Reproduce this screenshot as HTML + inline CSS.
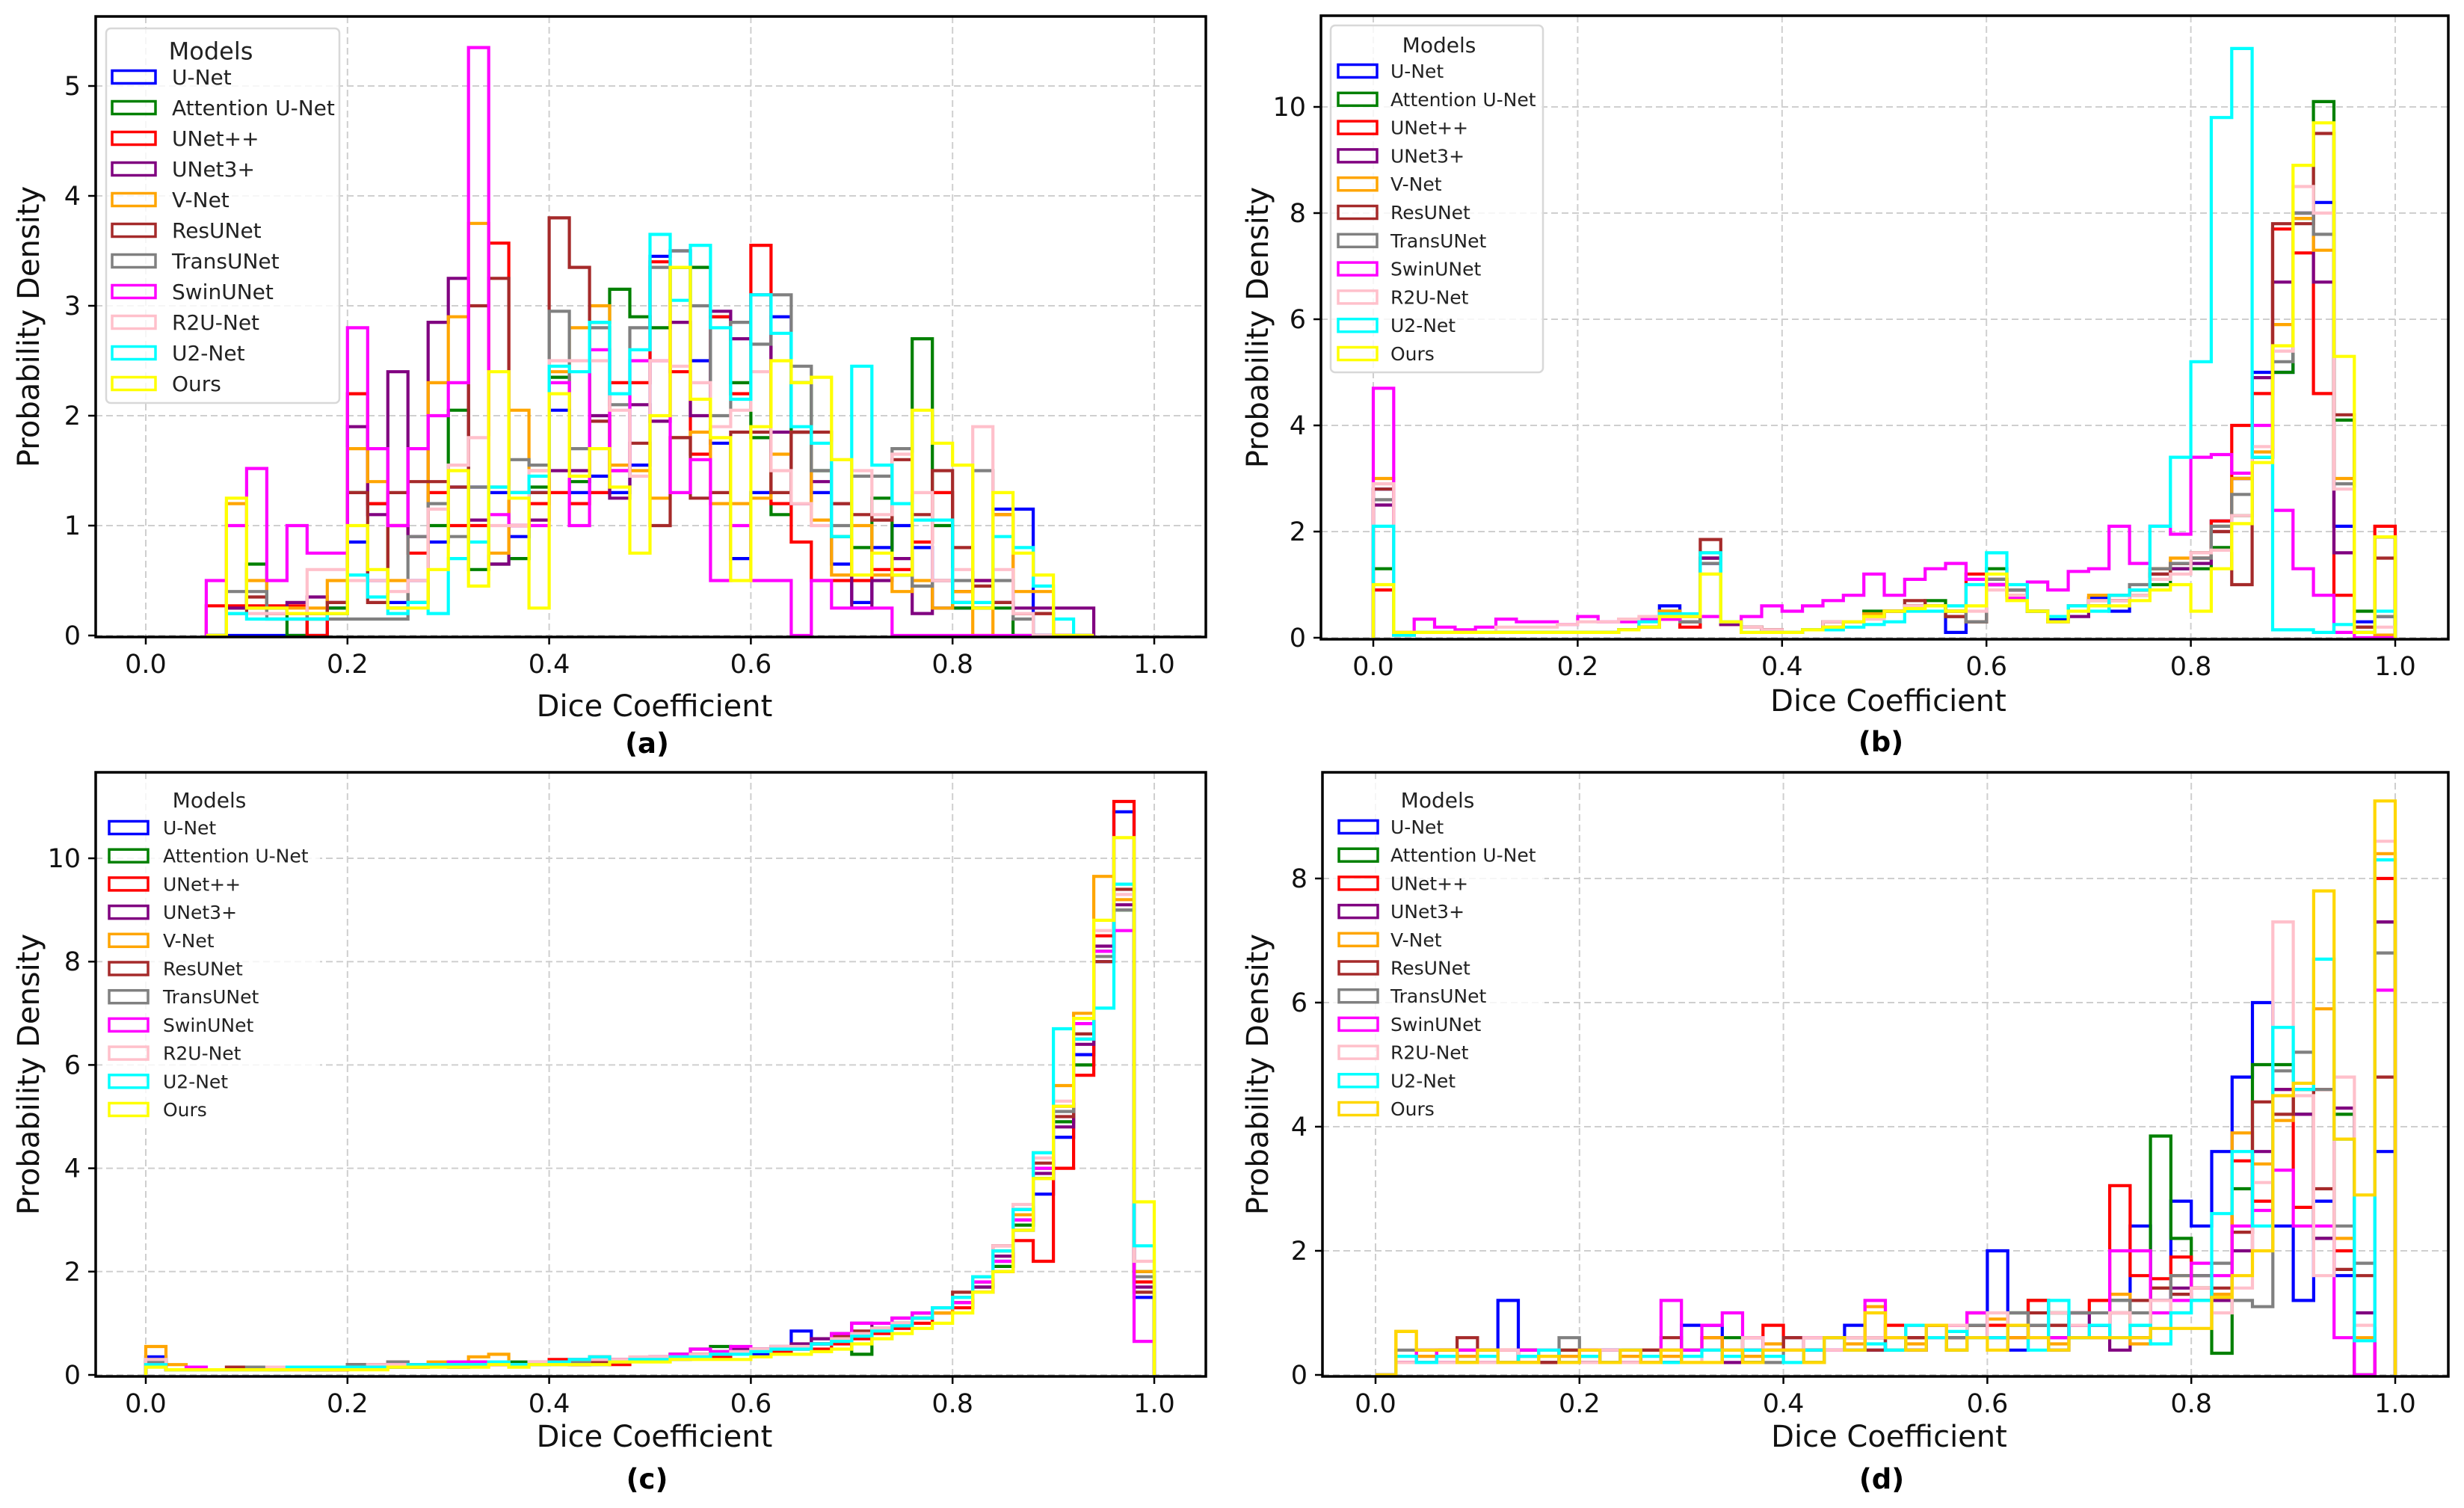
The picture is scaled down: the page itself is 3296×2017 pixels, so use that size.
<!DOCTYPE html>
<html><head><meta charset="utf-8">
<style>
html,body{margin:0;padding:0;background:#fff;}
svg{display:block;font-family:"DejaVu Sans","Liberation Sans",sans-serif;}
</style></head>
<body>
<svg id="fig" width="3296" height="2017" viewBox="0 0 3296 2017" xmlns="http://www.w3.org/2000/svg"></svg>
<script>
// ---------- shared data ----------
const modelNames = ["U-Net","Attention U-Net","UNet++","UNet3+","V-Net","ResUNet","TransUNet","SwinUNet","R2U-Net","U2-Net","Ours"];
const xTicks = [0,0.2,0.4,0.6,0.8,1.0];
const xTickLabels = ["0.0","0.2","0.4","0.6","0.8","1.0"];
const yTicksA = [0,1,2,3,4,5];
const yTicksB = [0,2,4,6,8,10];
const yTicksC = [0,2,4,6,8,10];
const yTicksD = [0,2,4,6,8];
const panelLetters = ["(a)","(b)","(c)","(d)"];
const binWidth = 0.02;
const binStartA = 0.06;
const binStartB = 0;
const binStartC = 0;
const binStartD = 0;

// ---------- panel (a) ----------
const aUNet  = [0,0,0,0,0,0,0.25,0.85,0.5,0.3,0.5,0.85,1.35,1.35,1.3,0.9,1.3,2.05,1.3,1.45,1.3,1.55,3.45,3.5,2.5,1.75,0.7,1.3,2.9,1.85,1.3,0.65,0.3,0.8,1.0,0.8,0.25,0.25,0.25,1.15,1.15,0,0,0];
const aAttn  = [0,0.25,0.65,0.25,0,0.15,0.25,1.3,1.2,0.25,0.3,1.0,2.05,0.6,0.65,0.7,1.35,2.35,1.4,2.85,3.15,2.9,2.8,3.35,3.35,2.9,2.3,1.8,1.1,2.3,1.5,0.9,0.8,1.25,0.55,2.7,1.0,0.25,0.25,0.25,0,0,0,0];
const aUNetPP= [0.27,0.27,0.27,0.27,0.27,0,0.2,2.2,1.2,1.0,0.75,1.3,1.0,1.0,3.57,1.0,1.2,1.3,1.2,1.3,2.3,2.3,3.4,2.4,1.65,2.9,2.2,3.55,1.2,0.85,0.5,0.5,0.5,0.6,0.6,0.85,1.3,0.4,0.5,1.1,0.2,0.2,0,0];
const aUNet3 = [0,0.25,0.25,0.25,0.3,0.35,0.3,1.9,1.1,2.4,0.9,2.85,3.25,1.05,0.65,1.0,1.05,1.5,1.5,2.0,1.25,2.1,1.95,2.85,2.0,2.95,2.7,3.1,1.85,1.2,1.4,1.2,0.25,0.5,0.7,0.2,0.5,0.3,0.5,0.3,0.25,0.25,0.25,0.25];
const aVNet  = [0,1.2,0.5,0.2,0.25,0.25,0.5,1.7,1.4,0.5,0.3,2.3,2.9,3.75,0.75,2.05,1.5,2.4,2.8,3.0,1.55,1.5,1.25,1.8,1.85,1.2,1.2,1.25,1.65,1.85,1.05,0.55,1.0,0.55,0.4,0.5,0.25,0.4,0,1.1,0.4,0.4,0,0];
const aRes   = [0,0.2,0.35,0.2,0.2,0.2,0.3,1.3,0.3,1.3,1.4,1.4,1.35,3.0,3.25,1.3,1.3,3.8,3.35,1.95,1.5,1.75,1.0,1.8,1.25,1.3,1.85,1.85,1.3,1.85,1.85,1.2,1.1,1.05,1.6,1.1,1.5,0.8,0.45,0.3,0.2,0.2,0,0];
const aTrans = [0,0.4,0.4,0.15,0.15,0.2,0.15,0.15,0.15,0.15,0.9,1.2,0.9,1.35,1.35,1.6,1.55,2.95,1.7,2.8,2.1,2.8,3.35,3.5,3.0,2.0,2.85,2.65,3.1,2.45,1.5,1.0,1.45,1.45,1.7,0.45,0.5,0.5,1.5,0.5,0.15,0,0,0];
const aSwin  = [0.5,1.0,1.52,0.5,1.0,0.75,0.75,2.8,1.7,1.0,1.7,2.0,2.3,5.35,1.1,1.0,1.0,2.3,1.0,2.6,1.5,2.5,2.5,1.3,1.6,0.5,1.0,0.5,0.5,0,0.5,0.25,0.25,0.25,0,0,0,0,0,0,0,0,0,0];
const aR2U   = [0,0.2,0.2,0.2,0.2,0.6,0.6,0.5,0.5,0.4,0.5,1.15,1.55,1.8,1.0,1.0,1.5,2.5,2.5,2.5,2.05,1.45,2.5,2.45,2.3,1.9,2.05,2.4,1.5,1.2,1.0,1.6,1.5,1.1,1.65,1.3,0.5,0.6,1.9,0.6,0.2,0,0,0];
const aU2    = [0,0.2,0.15,0.15,0.15,0.15,0.2,0.55,0.35,0.2,0.3,0.2,0.7,0.85,1.35,1.3,1.45,2.45,2.4,2.85,2.2,2.6,3.65,3.05,3.55,2.8,2.15,3.1,2.75,1.9,1.75,0.9,2.45,1.55,1.2,1.05,1.05,0.3,0.3,0.9,0.8,0.45,0.15,0];
const aOurs  = [0,1.25,0.25,0.25,0.2,0.2,0.2,1.0,0.6,0.25,0.25,0.6,1.5,0.45,2.4,1.25,0.25,2.2,1.45,1.7,1.35,0.75,2.0,3.35,2.15,1.8,0.5,1.9,2.5,2.3,2.35,1.6,0.55,0.75,0.55,2.05,1.75,1.55,0.25,1.3,0.75,0.55,0,0];

// ---------- panel (b) ----------
const bUNet  = [2.8,0.1,0.1,0.1,0.1,0.1,0.1,0.1,0.1,0.1,0.1,0.1,0.15,0.2,0.6,0.3,1.4,0.3,0.2,0.15,0.1,0.15,0.3,0.3,0.4,0.5,0.6,0.6,0.1,0.3,1.0,0.9,0.5,0.35,0.6,0.75,0.5,0.9,1.3,1.3,1.6,2.2,3.0,5.0,5.0,8.0,8.2,2.1,0.3,0.4];
const bAttn  = [1.3,0.05,0.1,0.1,0.1,0.1,0.1,0.1,0.1,0.1,0.1,0.1,0.15,0.2,0.5,0.3,1.5,0.3,0.2,0.15,0.1,0.15,0.3,0.3,0.5,0.5,0.6,0.7,0.4,0.3,1.3,0.9,0.5,0.4,0.6,0.7,0.7,0.8,1.0,1.3,1.3,1.7,2.3,3.4,5.0,7.9,10.1,4.1,0.5,1.9];
const bUNetPP= [0.9,0.1,0.1,0.1,0.1,0.1,0.1,0.1,0.1,0.1,0.1,0.1,0.15,0.2,0.35,0.2,1.5,0.25,0.2,0.15,0.1,0.15,0.2,0.3,0.4,0.5,0.6,0.6,0.5,1.2,1.0,0.8,0.5,0.4,0.6,0.7,0.7,0.9,1.3,1.4,1.5,2.2,4.0,4.6,7.7,7.25,4.6,0.8,0.1,2.1];
const bUNet3 = [2.5,0.1,0.1,0.1,0.1,0.1,0.1,0.1,0.1,0.1,0.1,0.1,0.15,0.2,0.4,0.3,1.5,0.25,0.2,0.15,0.1,0.15,0.3,0.3,0.4,0.5,0.6,0.6,0.5,0.3,1.0,0.9,0.5,0.3,0.4,0.7,0.8,0.9,1.2,1.3,1.4,2.0,3.0,4.9,6.7,8.0,6.7,1.6,0.2,1.9];
const bVNet  = [3.0,0.1,0.1,0.1,0.1,0.1,0.1,0.1,0.1,0.1,0.1,0.1,0.15,0.2,0.5,0.3,1.6,0.3,0.2,0.15,0.1,0.15,0.3,0.3,0.45,0.5,0.6,0.6,0.5,0.3,1.1,0.8,0.5,0.4,0.6,0.8,0.8,0.9,1.3,1.5,1.6,2.1,3.0,3.5,5.9,7.9,7.3,3.0,0.2,0.05];
const bRes   = [2.8,0.1,0.1,0.1,0.1,0.1,0.1,0.1,0.1,0.1,0.1,0.1,0.15,0.2,0.4,0.3,1.85,0.3,0.2,0.15,0.1,0.15,0.3,0.3,0.4,0.5,0.7,0.6,0.4,0.3,1.1,0.9,0.5,0.4,0.6,0.6,0.7,0.9,1.2,1.4,1.5,2.0,1.0,3.4,7.8,7.8,9.5,4.2,0.2,1.5];
const bTrans = [2.6,0.1,0.1,0.1,0.1,0.1,0.1,0.1,0.1,0.1,0.1,0.1,0.15,0.2,0.45,0.3,1.4,0.3,0.2,0.15,0.1,0.15,0.3,0.3,0.4,0.5,0.6,0.6,0.5,0.3,1.1,0.9,0.5,0.4,0.6,0.7,0.8,1.0,1.3,1.4,1.5,2.1,2.7,3.4,5.2,8.0,7.6,2.9,0.1,0.4];
const bSwin  = [4.7,0.1,0.35,0.2,0.15,0.2,0.35,0.3,0.3,0.25,0.4,0.3,0.3,0.35,0.35,0.4,0.4,0.3,0.4,0.6,0.5,0.6,0.7,0.8,1.2,0.8,1.1,1.3,1.4,1.1,1.0,0.75,1.05,0.9,1.25,1.3,2.1,1.4,2.1,1.95,3.4,3.45,3.1,4.0,2.4,1.3,0.8,0.1,0,0];
const bR2U   = [2.9,0.1,0.1,0.1,0.1,0.1,0.2,0.2,0.2,0.25,0.3,0.3,0.35,0.4,0.4,0.4,1.2,0.3,0.2,0.15,0.1,0.15,0.3,0.3,0.35,0.5,0.6,0.6,0.6,0.5,0.9,0.8,0.5,0.4,0.6,0.7,0.7,0.8,1.1,1.2,1.6,1.65,2.3,3.6,5.4,8.5,8.0,2.8,0.1,0.2];
const bU2    = [2.1,0.05,0.1,0.1,0.1,0.1,0.1,0.1,0.1,0.1,0.1,0.1,0.15,0.3,0.45,0.45,1.6,0.3,0.1,0.1,0.1,0.15,0.15,0.2,0.25,0.3,0.5,0.5,0.6,1.0,1.6,1.0,0.5,0.4,0.6,0.5,0.8,0.9,2.1,3.4,5.2,9.8,11.1,3.4,0.15,0.15,0.1,0.25,0.1,0.5];
const bOurs  = [1.0,0.1,0.1,0.1,0.1,0.1,0.1,0.1,0.1,0.1,0.1,0.1,0.15,0.2,0.4,0.4,1.2,0.3,0.1,0.1,0.1,0.15,0.2,0.3,0.4,0.5,0.55,0.6,0.5,0.6,1.2,0.7,0.5,0.3,0.5,0.6,0.6,0.7,0.9,1.0,0.5,1.3,2.15,3.3,5.5,8.9,9.7,5.3,0.1,1.9];

// ---------- panel (c) ----------
const cUNet  = [0.35,0.1,0.1,0.1,0.1,0.15,0.1,0.15,0.1,0.1,0.15,0.15,0.15,0.15,0.2,0.15,0.2,0.2,0.2,0.2,0.25,0.2,0.2,0.25,0.3,0.3,0.3,0.35,0.4,0.4,0.4,0.5,0.85,0.6,0.7,0.8,0.9,1.0,1.2,1.3,1.5,1.8,2.2,2.8,3.5,4.6,6.2,8.0,10.9,1.5];
const cAttn  = [0.3,0.1,0.1,0.1,0.1,0.1,0.15,0.1,0.1,0.15,0.15,0.15,0.2,0.15,0.2,0.2,0.2,0.2,0.25,0.2,0.25,0.2,0.25,0.3,0.3,0.35,0.4,0.5,0.55,0.5,0.45,0.5,0.55,0.6,0.65,0.4,0.9,1.0,1.1,1.3,1.4,1.7,2.1,2.9,3.8,4.9,6.0,8.2,9.0,2.0];
const cUNetPP= [0.2,0.1,0.1,0.1,0.1,0.1,0.15,0.15,0.15,0.1,0.15,0.2,0.15,0.15,0.2,0.2,0.25,0.2,0.2,0.25,0.3,0.2,0.35,0.2,0.3,0.3,0.35,0.4,0.35,0.4,0.45,0.45,0.5,0.5,0.6,0.7,0.8,0.9,1.0,1.2,1.3,1.6,2.0,2.6,2.2,4.0,5.8,8.5,11.1,1.8];
const cUNet3 = [0.25,0.1,0.1,0.1,0.1,0.1,0.1,0.15,0.1,0.15,0.15,0.15,0.2,0.15,0.2,0.2,0.2,0.25,0.2,0.25,0.25,0.3,0.25,0.3,0.3,0.35,0.4,0.4,0.4,0.5,0.5,0.55,0.6,0.7,0.8,1.0,0.9,1.1,1.2,1.3,1.4,1.7,2.3,3.0,3.9,4.8,6.4,8.3,9.1,1.7];
const cVNet  = [0.55,0.2,0.15,0.1,0.1,0.1,0.15,0.1,0.15,0.15,0.2,0.15,0.2,0.2,0.25,0.2,0.35,0.4,0.2,0.2,0.25,0.3,0.25,0.3,0.3,0.35,0.35,0.4,0.45,0.4,0.45,0.5,0.5,0.6,0.7,0.8,0.9,1.0,1.1,1.2,1.4,1.8,2.4,3.1,4.3,5.6,7.0,9.65,9.2,2.0];
const cRes   = [0.2,0.1,0.1,0.1,0.15,0.1,0.1,0.15,0.15,0.15,0.2,0.2,0.25,0.15,0.2,0.2,0.25,0.2,0.2,0.25,0.25,0.2,0.25,0.3,0.3,0.35,0.35,0.4,0.4,0.45,0.5,0.5,0.55,0.6,0.75,0.85,0.9,1.0,1.1,1.3,1.6,1.9,2.5,3.2,4.1,5.0,6.6,8.0,9.4,1.6];
const cTrans = [0.25,0.1,0.1,0.1,0.1,0.15,0.1,0.15,0.1,0.15,0.2,0.15,0.25,0.2,0.2,0.25,0.2,0.2,0.2,0.25,0.2,0.25,0.3,0.3,0.3,0.3,0.35,0.4,0.45,0.45,0.5,0.5,0.55,0.6,0.7,0.75,0.9,1.0,1.1,1.3,1.5,1.9,2.4,3.2,4.0,5.1,6.5,8.1,9.0,1.9];
const cSwin  = [0.2,0.1,0.15,0.1,0.1,0.1,0.1,0.1,0.15,0.15,0.15,0.15,0.2,0.2,0.2,0.25,0.25,0.2,0.2,0.2,0.25,0.3,0.3,0.3,0.3,0.35,0.4,0.5,0.45,0.55,0.5,0.5,0.5,0.6,0.8,1.0,1.0,1.1,1.2,1.3,1.4,1.8,2.2,3.0,4.0,5.2,6.8,8.2,8.6,0.65];
const cR2U   = [0.3,0.1,0.1,0.1,0.1,0.1,0.15,0.1,0.15,0.15,0.15,0.2,0.2,0.15,0.2,0.2,0.2,0.25,0.2,0.25,0.25,0.3,0.3,0.3,0.35,0.35,0.35,0.4,0.4,0.45,0.5,0.55,0.55,0.6,0.7,0.8,0.9,1.0,1.1,1.3,1.5,1.9,2.5,3.3,4.2,5.3,6.9,8.6,9.3,2.2];
const cU2    = [0.2,0.1,0.1,0.1,0.1,0.1,0.1,0.15,0.15,0.15,0.15,0.15,0.15,0.2,0.2,0.2,0.2,0.25,0.2,0.2,0.25,0.3,0.35,0.25,0.3,0.3,0.35,0.35,0.4,0.4,0.45,0.5,0.5,0.6,0.65,0.75,0.85,0.95,1.1,1.3,1.5,1.9,2.4,3.2,4.3,6.7,6.5,7.1,9.5,2.5];
const cOurs  = [0.15,0.1,0.1,0.1,0.1,0.1,0.1,0.1,0.1,0.1,0.1,0.1,0.15,0.15,0.15,0.15,0.15,0.2,0.15,0.2,0.2,0.2,0.2,0.25,0.25,0.25,0.3,0.3,0.3,0.3,0.35,0.4,0.4,0.45,0.5,0.6,0.7,0.8,0.9,1.0,1.2,1.6,2.0,2.8,3.8,5.2,6.9,8.8,10.4,3.35];

// ---------- panel (d) ----------
const dUNet  = [0,0.2,0.4,0.4,0.2,0.4,1.2,0.4,0.4,0.2,0.2,0.4,0.4,0.2,0.4,0.8,0.8,0.4,0.2,0.4,0.4,0.4,0.6,0.8,0.4,0.6,0.4,0.8,0.6,0.8,2.0,0.4,0.8,0.4,0.8,0.6,1.2,2.4,1.2,2.8,2.4,3.6,4.8,6.0,2.4,1.2,2.8,1.6,0,3.6];
const dAttn  = [0,0.2,0.2,0.2,0.4,0.2,0.2,0.4,0.2,0.4,0.2,0.2,0.4,0.2,0.2,0.4,0.4,0.6,0.2,0.4,0.4,0.2,0.6,0.4,0.6,0.4,0.6,0.6,0.4,0.6,0.6,1.0,1.2,1.0,0.6,0.8,1.2,0.8,3.85,2.2,1.4,0.35,3.0,5.0,5.0,4.2,2.2,4.2,0,7.3];
const dUNetPP= [0,0.2,0.2,0.4,0.2,0.4,0.4,0.2,0.4,0.2,0.4,0.2,0.2,0.4,0.4,0.4,0.6,0.4,0.4,0.8,0.4,0.4,0.6,0.6,0.6,0.8,0.6,0.6,0.8,1.0,0.8,0.6,1.2,0.8,1.0,1.2,3.05,1.6,1.55,1.9,1.4,1.2,3.45,2.8,4.6,2.7,4.6,2.0,0,8.0];
const dUNet3 = [0,0.2,0.2,0.2,0.2,0.4,0.2,0.4,0.2,0.2,0.2,0.4,0.2,0.4,0.2,0.4,0.4,0.2,0.4,0.4,0.6,0.4,0.4,0.4,0.6,0.6,0.4,0.6,0.6,0.8,0.6,0.8,0.8,0.6,1.0,0.8,0.4,0.6,1.2,1.4,1.6,1.2,2.0,3.6,4.6,4.2,2.2,4.3,1.0,7.3];
const dVNet  = [0,0.7,0.3,0.3,0.3,0.4,0.2,0.3,0.4,0.3,0.3,0.2,0.3,0.4,0.3,0.4,0.6,0.4,0.3,0.5,0.4,0.6,0.4,0.5,1.1,0.6,0.5,0.8,0.6,0.8,0.9,0.6,0.8,0.5,0.8,0.6,1.3,0.5,1.4,1.6,1.2,1.3,3.9,3.4,4.1,4.6,5.9,2.2,0.6,8.4];
const dRes   = [0,0.2,0.2,0.4,0.6,0.4,0.2,0.4,0.2,0.4,0.2,0.2,0.4,0.4,0.6,0.4,0.4,0.4,0.6,0.4,0.6,0.4,0.6,0.6,0.4,0.6,0.6,0.8,0.6,0.8,0.6,0.8,1.0,0.8,0.8,0.6,1.0,1.2,1.4,1.3,1.2,1.4,2.3,4.4,4.2,4.6,3.0,1.7,1.6,4.8];
const dTrans = [0,0.4,0.4,0.2,0.4,0.4,0.2,0.2,0.4,0.6,0.4,0.2,0.4,0.2,0.4,0.4,0.4,0.4,0.4,0.2,0.4,0.6,0.4,0.6,0.6,0.6,0.8,0.6,0.6,0.8,0.6,1.0,0.8,1.0,1.0,1.0,1.2,1.0,1.2,1.6,1.6,1.8,1.2,1.1,4.9,5.2,4.6,2.4,1.8,6.8];
const dSwin  = [0,0.2,0.4,0.2,0.4,0.2,0.2,0.4,0.4,0.2,0.4,0.2,0.4,0.2,1.2,0.4,0.8,1.0,0.6,0.4,0.4,0.6,0.4,0.4,1.2,0.6,0.8,0.6,0.8,1.0,0.6,0.8,0.6,0.6,0.8,0.8,2.0,2.0,1.0,1.2,1.8,1.6,2.4,2.65,3.3,2.4,2.4,0.6,0,6.2];
const dR2U   = [0,0.2,0.2,0.2,0.2,0.2,0.4,0.2,0.4,0.2,0.2,0.4,0.2,0.2,0.4,0.2,0.4,0.4,0.6,0.4,0.4,0.6,0.4,0.6,0.6,0.6,0.8,0.6,0.8,0.6,1.0,0.8,0.6,1.0,0.8,0.6,1.0,0.8,1.2,1.0,1.4,1.0,1.4,3.1,7.3,4.5,1.6,4.8,0.8,8.6];
const dU2    = [0,0.3,0.2,0.3,0.2,0.3,0.2,0.3,0.4,0.2,0.3,0.2,0.4,0.3,0.2,0.3,0.4,0.3,0.4,0.3,0.2,0.4,0.6,0.4,0.5,0.4,0.8,0.6,0.7,0.6,0.6,0.8,0.4,1.2,0.6,0.8,0.6,0.8,0.5,1.0,1.2,2.6,3.6,2.4,5.6,4.6,6.7,3.8,0.55,8.3];
const dOurs  = [0,0.7,0.4,0.4,0.2,0.4,0.2,0.2,0.3,0.2,0.4,0.2,0.4,0.2,0.4,0.2,0.2,0.4,0.2,0.4,0.4,0.2,0.6,0.4,1.0,0.6,0.4,0.8,0.4,0.6,0.4,0.8,0.6,0.4,0.6,0.6,0.6,0.6,0.75,0.75,0.75,1.25,1.6,2.0,4.5,4.7,7.8,3.8,2.9,9.25];

const seriesA = [aUNet,aAttn,aUNetPP,aUNet3,aVNet,aRes,aTrans,aSwin,aR2U,aU2,aOurs];
const seriesB = [bUNet,bAttn,bUNetPP,bUNet3,bVNet,bRes,bTrans,bSwin,bR2U,bU2,bOurs];
const seriesC = [cUNet,cAttn,cUNetPP,cUNet3,cVNet,cRes,cTrans,cSwin,cR2U,cU2,cOurs];
const seriesD = [dUNet,dAttn,dUNetPP,dUNet3,dVNet,dRes,dTrans,dSwin,dR2U,dU2,dOurs];

// ---------- styling / layout (not data) ----------
const colorsABC = ["#0000ff","#008000","#ff0000","#800080","#ffa500","#a52a2a","#808080","#ff00ff","#ffc0cb","#00ffff","#ffff00"];
const colorsD   = ["#0000ff","#008000","#ff0000","#800080","#ffa500","#a52a2a","#808080","#ff00ff","#ffc0cb","#00ffff","#ffd700"];
const NS = "http://www.w3.org/2000/svg";
const svg = document.getElementById("fig");

const layouts = [
 {key:"a",L:128,R:1613,T:22,B:852,x0:195,x1:1544,pxPerUnit:147,series:seriesA,start:binStartA,yt:yTicksA,colors:colorsABC,
  leg:{box:[142,38,312,501],titleX:282,titleY:68,titleSize:32,first:103,step:41,hx:150,hw:58,hh:17,tx:230,fs:28,frame:true},
  labY:944,letY:994,ylabX:38},
 {key:"b",L:1767,R:3275,T:21,B:855,x0:1837,x1:3204,pxPerUnit:71,series:seriesB,start:binStartB,yt:yTicksB,colors:colorsABC,
  leg:{box:[1780,34,284,464],titleX:1925,titleY:60,titleSize:28,first:95,step:37.8,hx:1790,hw:52,hh:17,tx:1860,fs:25,frame:true},
  labY:937,letY:992,ylabX:1682},
 {key:"c",L:128,R:1613,T:1033,B:1841,x0:195,x1:1544,pxPerUnit:69.1,series:seriesC,start:binStartC,yt:yTicksC,colors:colorsABC,
  leg:{box:[138,1042,290,462],titleX:280,titleY:1070,titleSize:28,first:1107,step:37.7,hx:146,hw:52,hh:17,tx:218,fs:25,frame:false},
  labY:1921,letY:1978,ylabX:38},
 {key:"d",L:1769,R:3275,T:1033,B:1841,x0:1840,x1:3204,pxPerUnit:83,series:seriesD,start:binStartD,yt:yTicksD,colors:colorsD,
  leg:{box:[1782,1042,284,462],titleX:1923,titleY:1070,titleSize:28,first:1106,step:37.7,hx:1791,hw:52,hh:17,tx:1860,fs:25,frame:false},
  labY:1921,letY:1978,ylabX:1682}
];

function mk(tag, attrs, parent){
  const e = document.createElementNS(NS, tag);
  for (const k in attrs) e.setAttribute(k, attrs[k]);
  (parent||svg).appendChild(e);
  return e;
}

layouts.forEach((p, pi) => {
  const g = mk("g", {});
  
  
  const xs = v => p.x0 + (p.x1 - p.x0) * v;
  const ys = v => p.B - 2 - p.pxPerUnit * v;

  const cp = mk("clipPath", {id:"clip"+p.key}, g);
  mk("rect", {x:p.L, y:p.T, width:p.R-p.L, height:p.B-p.T}, cp);

  xTicks.forEach(t => {
    const l = mk("line", {x1:xs(t), x2:xs(t), y1:p.T, y2:p.B, stroke:"#cfcfcf", "stroke-width":2, "stroke-dasharray":"9,5"}, g);
    
    
  });
  p.yt.forEach(t => {
    const l = mk("line", {x1:p.L, x2:p.R, y1:ys(t), y2:ys(t), stroke:"#cfcfcf", "stroke-width":2, "stroke-dasharray":"9,5"}, g);
    
    
  });

  const hg = mk("g", {"clip-path":"url(#clip"+p.key+")"}, g);
  p.series.forEach((vals, si) => {
    let d = "M" + xs(p.start).toFixed(1) + "," + ys(0).toFixed(1);
    vals.forEach((v, i) => {
      const xa = xs(p.start + i * binWidth), xb = xs(p.start + (i + 1) * binWidth);
      d += " L" + xa.toFixed(1) + "," + ys(v).toFixed(1) + " L" + xb.toFixed(1) + "," + ys(v).toFixed(1);
    });
    d += " L" + xs(p.start + vals.length * binWidth).toFixed(1) + "," + ys(0).toFixed(1);
    const path = mk("path", {d:d, fill:"none", stroke:p.colors[si], "stroke-width":4.2, "stroke-linejoin":"miter"}, hg);
    
    
  });

  const fr = mk("rect", {x:p.L, y:p.T, width:p.R-p.L, height:p.B-p.T, fill:"none", stroke:"#000", "stroke-width":3.5}, g);
  
  

  xTicks.forEach((t, i) => {
    mk("line", {x1:xs(t), x2:xs(t), y1:p.B, y2:p.B+10, stroke:"#000", "stroke-width":2.5}, g);
    const tx = mk("text", {x:xs(t), y:p.B+48, "font-size":35, "text-anchor":"middle", fill:"#111"}, g);
    tx.textContent = xTickLabels[i];
    
    
  });
  p.yt.forEach(t => {
    mk("line", {x1:p.L-10, x2:p.L, y1:ys(t), y2:ys(t), stroke:"#000", "stroke-width":2.5}, g);
    const ty = mk("text", {x:p.L-20, y:ys(t)+12, "font-size":35, "text-anchor":"end", fill:"#111"}, g);
    ty.textContent = String(t);
    
    
  });

  const xl = mk("text", {x:(p.L+p.R)/2 + 5, y:p.labY + 14, "font-size":40, "text-anchor":"middle", fill:"#111"}, g);
  xl.textContent = "Dice Coefficient";
  
  
  const cy = (p.T + p.B) / 2;
  const yl = mk("text", {x:p.ylabX, y:cy, "font-size":40, "text-anchor":"middle", fill:"#111", transform:"rotate(-90 "+(p.ylabX)+" "+cy+")", dy:"14"}, g);
  yl.textContent = "Probability Density";
  
  
  const pl = mk("text", {x:(p.L+p.R)/2 - 5, y:p.letY + 13, "font-size":37, "font-weight":"bold", "text-anchor":"middle", fill:"#000"}, g);
  pl.textContent = panelLetters[pi];
  
  

  const lg = mk("g", {}, g);
  
  
  const b = p.leg.box;
  mk("rect", {x:b[0], y:b[1], width:b[2], height:b[3], rx:6, fill:"#fff", "fill-opacity":0.8, stroke:p.leg.frame?"#d8d8d8":"none", "stroke-width":2.5}, lg);
  const tt = mk("text", {x:p.leg.titleX, y:p.leg.titleY + p.leg.titleSize*0.36, "font-size":p.leg.titleSize, "text-anchor":"middle", fill:"#222"}, lg);
  tt.textContent = "Models";
  
  
  modelNames.forEach((n, i) => {
    const yc = p.leg.first + i * p.leg.step;
    const eg = mk("g", {}, lg);
    
    
    mk("rect", {x:p.leg.hx, y:yc - p.leg.hh/2, width:p.leg.hw, height:p.leg.hh, fill:"none", stroke:p.colors[i], "stroke-width":3.5}, eg);
    const et = mk("text", {x:p.leg.tx, y:yc + p.leg.fs*0.36, "font-size":p.leg.fs, fill:"#222"}, eg);
    et.textContent = n;
  });
});
</script>
</body></html>
